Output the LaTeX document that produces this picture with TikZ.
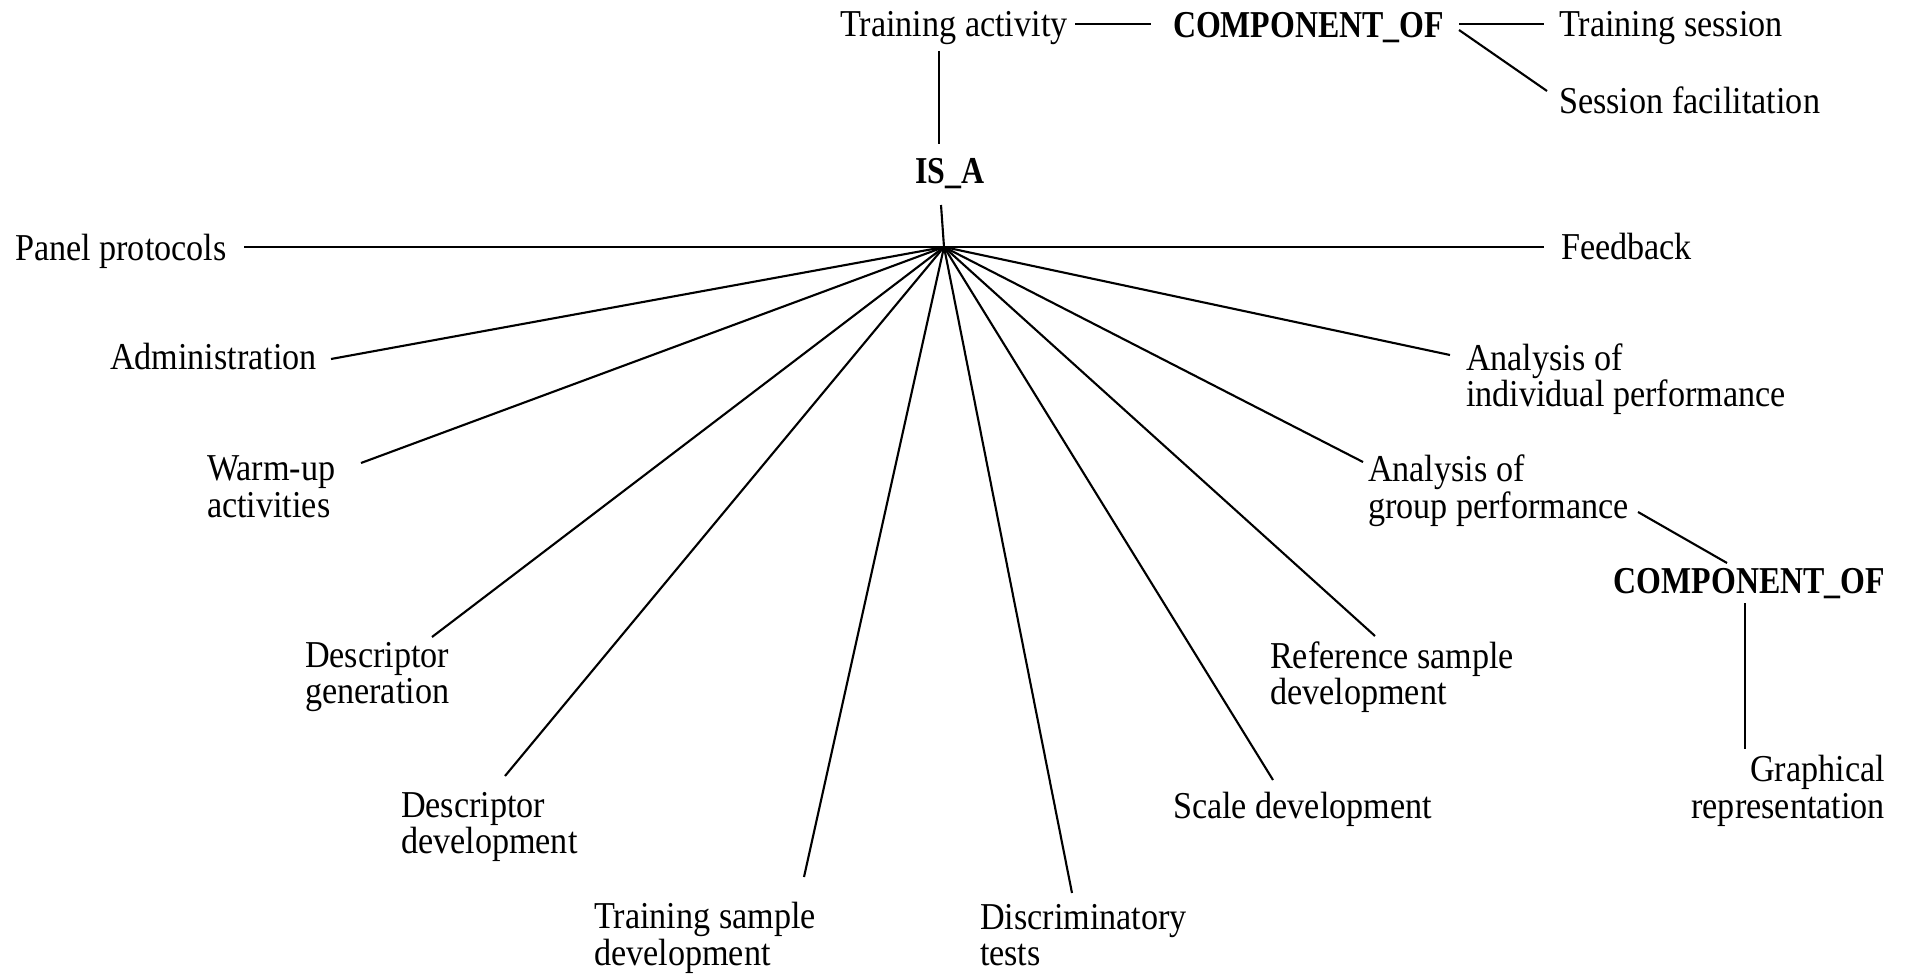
\documentclass[tikz,border=0pt]{standalone}
\usepackage{fontspec}
\setmainfont[FakeStretch=0.9, BoldFeatures={FakeStretch=0.84}]{Liberation Serif}
\begin{document}
\begin{tikzpicture}[x=0.01cm,y=-0.01cm,
  lbl/.style={inner sep=0pt, outer sep=0pt, font=\fontsize{10.8}{10.4}\selectfont},
  rel/.style={lbl, font=\fontsize{10.8}{10.4}\selectfont\bfseries},
  conn/.style={line width=0.6pt, black}]
\useasboundingbox (0,0) rectangle (1910,973);
% nodes
\node[lbl, anchor=west] (ta) at (840,28) {Training activity};
\node[rel, anchor=west] (co1) at (1173,28) {COMPONENT\_OF};
\node[lbl, anchor=west] (ts) at (1559,28) {Training session};
\node[lbl, anchor=west] (sf) at (1559,100) {Session facilitation};
\node[rel] (isa) at (950,174) {IS\_A};
\coordinate (hub) at (944,247);
\node[lbl, anchor=west] (pp) at (15,251) {Panel protocols};
\node[lbl, anchor=west] (fb) at (1561,247) {Feedback};
\node[lbl, anchor=west] (adm) at (110,357) {Administration};
\node[lbl, anchor=west, align=left] (wu) at (207,487) {Warm-up\\activities};
\node[lbl, anchor=west, align=left] (dg) at (305,677) {Descriptor\\generation};
\node[lbl, anchor=west, align=left] (dd) at (401,827) {Descriptor\\development};
\node[lbl, anchor=west, align=left] (tsd) at (594,938) {Training sample\\development};
\node[lbl, anchor=west, align=left] (dt) at (980,935) {Discriminatory\\tests};
\node[lbl, anchor=west] (sd) at (1173,809) {Scale development};
\node[lbl, anchor=west, align=left] (rsd) at (1270,677) {Reference sample\\development};
\node[lbl, anchor=west, align=left] (agp) at (1368,491) {Analysis of\\group performance};
\node[lbl, anchor=west, align=left] (aip) at (1466,379) {Analysis of\\individual performance};
\node[rel, anchor=east] (co2) at (1885,584) {COMPONENT\_OF};
\node[lbl, anchor=east, align=right] (gr) at (1885,791) {Graphical\\representation};
% connector end points
\coordinate (e-ta) at (939,51);
\coordinate (e-isa-t) at (939,144);
\coordinate (e-isa-b) at (941,205);
\coordinate (e-pp) at (244,247);
\coordinate (e-fb) at (1544,247);
\coordinate (e-adm) at (331,359);
\coordinate (e-wu) at (361,463);
\coordinate (e-dg) at (432,637);
\coordinate (e-dd) at (505,776);
\coordinate (e-tsd) at (804,877);
\coordinate (e-dt) at (1072,893);
\coordinate (e-sd) at (1273,780);
\coordinate (e-rsd) at (1375,636);
\coordinate (e-agp) at (1363,462);
\coordinate (e-aip) at (1450,355);
\coordinate (e-ta-r) at (1075,24);
\coordinate (e-co1-l) at (1151,24);
\coordinate (e-co1-r) at (1459,24);
\coordinate (e-ts) at (1544,24);
\coordinate (e-co1-d) at (1459,30);
\coordinate (e-sf) at (1547,91);
\coordinate (e-agp-r) at (1638,512);
\coordinate (e-co2-t) at (1727,563);
\coordinate (e-co2-b) at (1745,603);
\coordinate (e-gr) at (1745,749);
% connectors
\draw[conn] (e-ta-r) -- (e-co1-l);
\draw[conn] (e-co1-r) -- (e-ts);
\draw[conn] (e-co1-d) -- (e-sf);
\draw[conn] (e-ta) -- (e-isa-t);
\draw[conn] (e-isa-b) -- (hub);
\draw[conn] (e-pp) -- (hub) -- (e-fb);
\foreach \e in {adm,wu,dg,dd,tsd,dt,sd,rsd,agp,aip}
  \draw[conn] (hub) -- (e-\e);
\draw[conn] (e-agp-r) -- (e-co2-t);
\draw[conn] (e-co2-b) -- (e-gr);
\end{tikzpicture}
\end{document}
